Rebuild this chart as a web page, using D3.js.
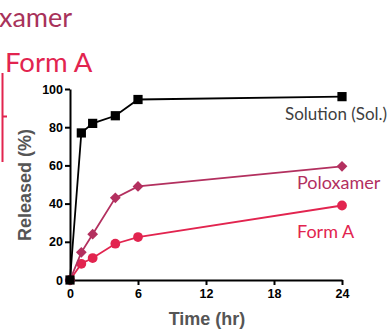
<!DOCTYPE html>
<html><head><meta charset="utf-8">
<script src="https://cdn.jsdelivr.net/npm/d3@7"></script>
<style>html,body{margin:0;padding:0;background:#fff;overflow:hidden}</style>
</head><body>
<svg id="c" width="387" height="331"></svg>
<script>
const times = [0, 1, 2, 4, 6, 24];
const solution = [0, 77, 82, 86, 94.5, 96];
const poloxamer = [0, 14.5, 24, 43, 49, 59.5];
const formA = [0, 8.5, 11.5, 19, 22.5, 39];
const xTicks = [0, 6, 12, 18, 24];
const yTicks = [0, 20, 40, 60, 80, 100];
const seriesNames = ["Solution (Sol.)", "Poloxamer", "Form A"];

const colSol = "#000000", colPol = "#b3305f", colFA = "#e2244f";
const svg = d3.select("#c");
const x = d3.scaleLinear().domain([0, 24]).range([70, 342]);
const y = d3.scaleLinear().domain([0, 100]).range([280, 89]);

// top cropped labels
svg.append("text").attr("x", -1).attr("y", 27).attr("font-family", "Lato").attr("font-size", 27).attr("fill", "#a8325a").text("xamer");
svg.append("text").attr("x", 5).attr("y", 72).attr("font-family", "Lato").attr("font-size", 27.5).attr("fill", colFA).text("Form A");
svg.append("path").attr("d", "M2.5,73V162M2.5,116.5H7").attr("stroke", colFA).attr("stroke-width", 2).attr("fill", "none");

// axes
const yAxis = svg.append("g").attr("transform", "translate(70,0)")
  .call(d3.axisLeft(y).tickValues(yTicks).tickSize(5).tickSizeOuter(0).tickPadding(2));
const xAxis = svg.append("g").attr("transform", "translate(0,280)")
  .call(d3.axisBottom(x).tickValues(xTicks).tickSize(5).tickSizeOuter(0).tickPadding(4));
[yAxis, xAxis].forEach(g => {
  g.select(".domain").attr("stroke", "#000").attr("stroke-width", 2);
  g.selectAll(".tick line").attr("stroke", "#000").attr("stroke-width", 2);
  g.selectAll(".tick text").attr("font-family", "Liberation Sans, Arial").attr("font-weight", "bold").attr("font-size", 12.5).attr("fill", "#000");
});

svg.append("text").attr("transform", "translate(31,185) rotate(-90)").attr("text-anchor", "middle")
  .attr("font-family", "Liberation Sans, Arial").attr("font-weight", "bold").attr("font-size", 18).attr("fill", "#555").text("Released (%)");
svg.append("text").attr("x", 207).attr("y", 325).attr("text-anchor", "middle")
  .attr("font-family", "Liberation Sans, Arial").attr("font-weight", "bold").attr("font-size", 18).attr("fill", "#555").text("Time (hr)");

const line = d3.line().x(d => x(d[0])).y(d => y(d[1]));
function series(vals, col, sym, size, rot) {
  const pts = times.map((t, i) => [t, vals[i]]);
  svg.append("path").datum(pts).attr("d", line).attr("fill", "none").attr("stroke", col).attr("stroke-width", 1.8);
  svg.append("g").selectAll("path").data(pts).join("path")
    .attr("transform", d => `translate(${x(d[0])},${y(d[1])}) rotate(${rot})`)
    .attr("d", d3.symbol().type(sym).size(size)).attr("fill", col);
}
series(formA, colFA, d3.symbolCircle, 75, 0);
series(poloxamer, colPol, d3.symbolSquare, 58, 45);
series(solution, colSol, d3.symbolSquare, 85, 0);

svg.append("text").attr("x", 285).attr("y", 120).attr("font-family", "Lato").attr("font-size", 17).attr("fill", "#404040").text(seriesNames[0]);
svg.append("text").attr("x", 297).attr("y", 189).attr("font-family", "Lato").attr("font-size", 18).attr("fill", colPol).text(seriesNames[1]);
svg.append("text").attr("x", 297).attr("y", 238).attr("font-family", "Lato").attr("font-size", 18).attr("fill", colFA).text(seriesNames[2]);
</script>
</body></html>
